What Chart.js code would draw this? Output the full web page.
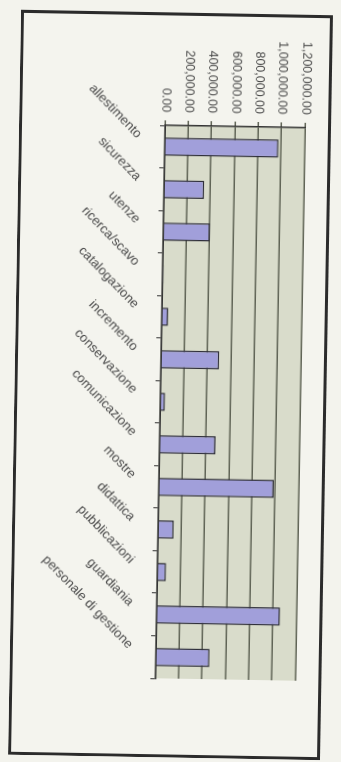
<!DOCTYPE html>
<html>
<head>
<meta charset="utf-8">
<script src="https://cdn.jsdelivr.net/npm/chart.js@4/dist/chart.umd.min.js"></script>
<style>
  html, body { margin: 0; padding: 0; background: #f3f3ed; overflow: hidden; }
  body { width: 341px; height: 762px; position: relative; }
  /* the chart is drawn upright and then turned on its side, like the scan */
  #mycanvas { position: absolute; left: -202.5px; top: 228.5px; transform: rotate(91deg); }
</style>
</head>
<body>
<canvas id="mycanvas" width="745" height="312"></canvas>
<script>
var categories = ['allestimento', 'sicurezza', 'utenze', 'ricerca/scavo', 'catalogazione', 'incremento',
  'conservazione', 'comunicazione', 'mostre', 'didattica', 'pubblicazioni', 'guardiania', 'personale di gestione'];
var costs = [975000, 345000, 400000, 10000, 55000, 500000, 40000, 480000, 985000, 135000, 75000, 1058000, 460000];
var valueTicks = ['0.00', '200,000.00', '400,000.00', '600,000.00', '800,000.00', '1,000,000.00', '1,200,000.00'];

var bgPlugin = {
  id: 'bg',
  beforeDraw: function(chart) {
    var ctx = chart.ctx, a = chart.chartArea;
    ctx.save();
    ctx.fillStyle = '#f4f4ee';
    ctx.fillRect(0, 0, chart.width, chart.height);
    ctx.fillStyle = '#d9dccb';
    ctx.fillRect(a.left, a.top, a.right - a.left, a.bottom - a.top);
    ctx.strokeStyle = '#2b2b2b';
    ctx.lineWidth = 3;
    ctx.strokeRect(1.5, 1.5, chart.width - 3, chart.height - 3);
    ctx.restore();
  }
};

var ctx = document.getElementById('mycanvas');
var chart = new Chart(ctx, {
  type: 'bar',
  data: {
    labels: categories,
    datasets: [{
      data: costs,
      backgroundColor: '#a19fda',
      borderColor: '#2f2f3a',
      borderWidth: 1.5,
      categoryPercentage: 1,
      barPercentage: 0.43
    }]
  },
  options: {
    responsive: false,
    animation: false,
    layout: { padding: { top: 26, right: 79, bottom: 0, left: 0 } },
    plugins: { legend: { display: false }, tooltip: { enabled: false } },
    scales: {
      x: {
        grid: { drawOnChartArea: false, drawTicks: true, tickLength: 5, color: '#333', offset: true },
        border: { color: '#333', width: 1.5 },
        ticks: {
          minRotation: 45, maxRotation: 45, autoSkip: false, padding: 15, labelOffset: -10,
          color: '#4a4a4a', font: { family: 'Liberation Sans', size: 13 }
        },
        afterFit: function(scale) { scale.height = 146; }
      },
      y: {
        min: 0, max: 1200000,
        grid: { color: '#5f6355', lineWidth: 1.5, tickLength: 5 },
        border: { color: '#333', width: 1.5 },
        ticks: {
          stepSize: 200000, padding: 8,
          color: '#4a4a4a', font: { family: 'Liberation Sans', size: 12.5 },
          callback: function(v, i) { return valueTicks[i]; }
        },
        afterFit: function(scale) { scale.width = 113; }
      }
    }
  },
  plugins: [bgPlugin]
});
</script>
</body>
</html>
